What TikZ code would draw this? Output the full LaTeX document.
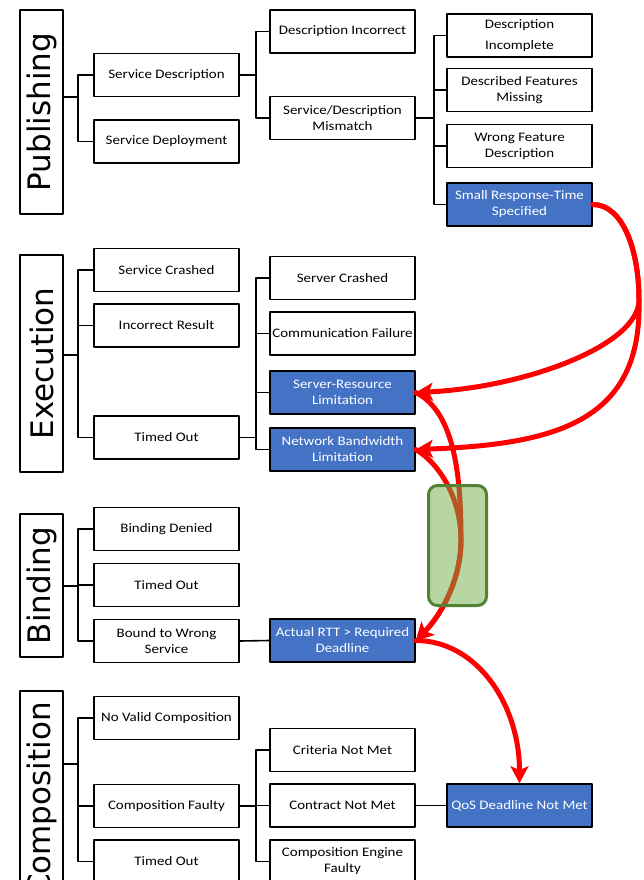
\documentclass[tikz,border=0pt]{standalone}
\usepackage{fontspec}
\usepackage{tikz}
\usetikzlibrary{arrows.meta,calc}
\newfontfamily\boxfont{Carlito}[FakeStretch=1.15]
\newfontfamily\catfont{DejaVu Sans}
\definecolor{qblue}{HTML}{4472C4}
\definecolor{leaf}{HTML}{70AD47}
\definecolor{leafdark}{HTML}{548235}
\tikzset{>={Stealth[length=17pt,width=18pt,inset=4pt]},
every picture/.append style={
    line join=round,
    line cap=round
  },
  cat/.style={draw, line width=1.6pt, rotate=90, minimum height=43.5pt, inner sep=0pt,
    font=\catfont\fontsize{31}{36}\selectfont},
  fault/.style={draw, line width=1.6pt, fill=white, minimum width=145pt, minimum height=43pt,
    inner sep=1pt, align=center, font=\boxfont\fontsize{13}{16}\selectfont},
  hot/.style={fault, fill=qblue, text=white},
  link/.style={line width=1.6pt},
  cause/.style={draw=red, line width=5pt, ->},
  hilite/.style={draw=leafdark, line width=3pt, fill=leaf, fill opacity=.5, rounded corners=9pt}
}

\begin{document}
\begin{tikzpicture}[x=1pt,y=-1pt]
    \useasboundingbox (0,0) rectangle (643,880);
    % categories
    \node [cat, minimum width=204pt] (pub) at (41.5,112) {Publishing};
    \node [cat, minimum width=217pt] (exe) at (41.5,363.5) {Execution};
    \node [cat, minimum width=143pt] (bin) at (41.5,585.5) {Binding};
    \node [cat, minimum width=216pt] (com) at (41.5,799) {Composition};
    % first level
    \node [fault] (sd) at (166.5,75) {Service Description};
    \node [fault] (sdep) at (166.5,141.5) {Service Deployment};
    \node [fault] (sc) at (166.5,270) {Service Crashed};
    \node [fault] (ir) at (166.5,325.5) {Incorrect Result};
    \node [fault] (eto) at (166.5,437.5) {Timed Out};
    \node [fault] (bd) at (166.5,529) {Binding Denied};
    \node [fault] (bto) at (166.5,585) {Timed Out};
    \node [fault] (bws) at (166.5,641) {Bound to Wrong\\Service};
    \node [fault] (nvc) at (166.5,718) {No Valid Composition};
    \node [fault] (cfa) at (166.5,806) {Composition Faulty};
    \node [fault] (cto) at (166.5,861.5) {Timed Out};
    % second level
    \node [fault] (di) at (342.5,31.5) {Description Incorrect};
    \node [fault] (sdm) at (342.5,118) {Service/Description\\Mismatch};
    \node [fault] (svc) at (342.5,278) {Server Crashed};
    \node [fault] (cf) at (342.5,333.5) {Communication Failure};
    \node [hot] (srl) at (342.5,392.5) {Server-Resource\\Limitation};
    \node [hot] (nbl) at (342.5,449.5) {Network Bandwidth\\Limitation};
    \node [hot] (rtt) at (342.5,640.5) {Actual RTT > Required\\Deadline};
    \node [fault] (cri) at (342.5,750) {Criteria Not Met};
    \node [fault] (cnm) at (342.5,805.5) {Contract Not Met};
    \node [fault] (cef) at (342.5,861.5) {Composition Engine\\Faulty};
    % third level
    \node [fault] (dinc) at (519.5,35.5) {Description\\[5pt]Incomplete};
    \node [fault] (dfm) at (519.5,90) {Described Features\\Missing};
    \node [fault] (wfd) at (519.5,146) {Wrong Feature\\Description};
    \node [hot] (srt) at (519.5,204.5) {Small Response-Time\\Specified};
    \node [hot] (qos) at (519.5,805.5) {QoS Deadline Not Met};
    % tree connectors
    \coordinate (pubj) at (78,97);
    \coordinate (exej) at (78,355);
    \coordinate (binj) at (78,586);
    \coordinate (comj) at (78,764);
    \draw [link] (pubj -| pub.south) -- (pubj);
    \draw [link] (exej -| exe.south) -- (exej);
    \draw [link] (binj -| bin.south) -- (binj);
    \draw [link] (comj -| com.south) -- (comj);
    \foreach \c in {sd,sdep} \draw [link] (pubj) |- (\c.west);
    \foreach \c in {sc,ir,eto} \draw [link] (exej) |- (\c.west);
    \foreach \c in {bd,bto,bws} \draw [link] (binj) |- (\c.west);
    \foreach \c in {nvc,cfa,cto} \draw [link] (comj) |- (\c.west);
    \draw [link] (sd.east) -- ++(16,0) coordinate (sdj);
    \foreach \c in {di,sdm} \draw [link] (sdj) |- (\c.west);
    \draw [link] (sdm.east) -- ++(18,0) coordinate (sdmj);
    \foreach \c in {dinc,dfm,wfd,srt} \draw [link] (sdmj) |- (\c.west);
    \draw [link] (eto.east) -- ++(16,0) coordinate (etoj);
    \foreach \c in {svc,cf,srl,nbl} \draw [link] (etoj) |- (\c.west);
    \draw [link] (cfa.east) -- ++(16,0) coordinate (cfaj);
    \foreach \c in {cri,cnm,cef} \draw [link] (cfaj) |- (\c.west);
    \draw [link] (bws.east) -- (rtt.west);
    \draw [link] (cnm.east) -- (qos.west);
    % causal chain
    \draw [cause] (srt.east) .. controls +(30,0) and +(0,-50) .. (639,300) .. controls +(0,45) and +(110,-5) .. (srl.east);
    \draw [cause] (srt.east) .. controls +(30,0) and +(0,-50) .. (639,300) .. controls +(3,120) and +(143,-5) .. (nbl.east);
    \draw [cause] (srl.east) .. controls +(40,20) and +(0,-60) .. (461,540) .. controls +(0,40) and +(25,-25) .. (rtt.east);
    \draw [cause] (nbl.east) .. controls +(25,15) and +(0,-40) .. (461,540) .. controls +(0,40) and +(25,-25) .. (rtt.east);
    \draw [cause] (rtt.east) .. controls +(60,0) and +(0,-80) .. (qos.north);
    \node [hilite, minimum width=58pt, minimum height=120pt] (hl) at (457.5,545.5) {};
\end{tikzpicture}
\end{document}
